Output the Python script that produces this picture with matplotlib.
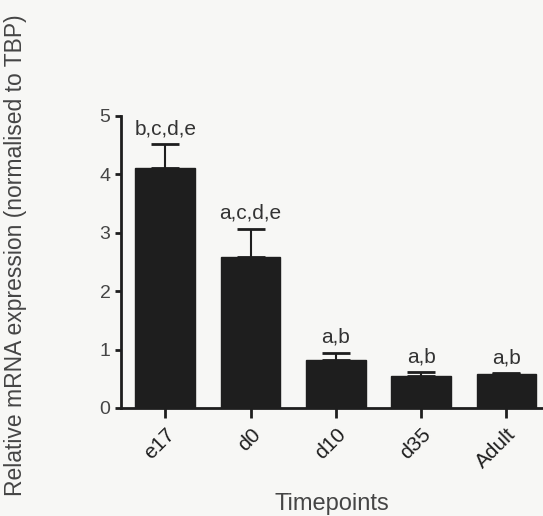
import numpy as np
import matplotlib
matplotlib.use('Agg')
import matplotlib.pyplot as plt

timepoints = ['e17', 'd0', 'd10', 'd35', 'Adult']
expression = [4.11, 2.59, 0.83, 0.54, 0.58]
sem = [0.41, 0.48, 0.12, 0.08, 0.02]
letters = ['b,c,d,e', 'a,c,d,e', 'a,b', 'a,b', 'a,b']

plt.rcParams['font.family'] = ['Liberation Sans', 'DejaVu Sans']
DARK = '#1e1e1e'
TXT = '#454545'

fig = plt.figure(figsize=(5.43, 5.16), dpi=100)
fig.patch.set_facecolor('#f7f7f5')
ax = fig.add_axes([121 / 543, 108 / 516, 1 - 121 / 543, 292 / 516])
ax.set_facecolor('none')

x = np.arange(len(timepoints))
ax.bar(x, expression, width=0.7, color=DARK, edgecolor=DARK, zorder=2)
ax.errorbar(x, expression, yerr=[np.zeros(len(sem)), sem], fmt='none',
            ecolor=DARK, elinewidth=1.5, capsize=10, capthick=2, zorder=3)
for xi, m, s, lab in zip(x, expression, sem, letters):
    ax.annotate(lab, (xi, m + s), xytext=(0, 7), textcoords='offset points',
                ha='center', va='baseline', fontsize=15, color='#333333')

ax.set_xlim(-0.52, 4.43)
ax.set_ylim(0, 5)
ax.set_yticks([0, 1, 2, 3, 4, 5])
ax.set_xticks(x)
ax.set_xticklabels(timepoints, rotation=45, ha='right', rotation_mode='anchor',
                   fontsize=15, color='#555555')
ax.tick_params(axis='y', labelsize=14, width=2, length=4.5, pad=3,
               colors=DARK, labelcolor=TXT)
ax.tick_params(axis='x', width=2, length=7, pad=5, colors=DARK)
for side in ['top', 'right']:
    ax.spines[side].set_visible(False)
for side in ['left', 'bottom']:
    ax.spines[side].set_linewidth(2)
    ax.spines[side].set_color(DARK)

ax.set_xlabel('Timepoints', fontsize=17, color=TXT, labelpad=15)
fig.text(0.028, 0.505, 'Relative mRNA expression (normalised to TBP)', rotation=90,
         ha='center', va='center', fontsize=16.5, color=TXT)

fig.savefig('out.png', dpi=100, facecolor=fig.get_facecolor())
